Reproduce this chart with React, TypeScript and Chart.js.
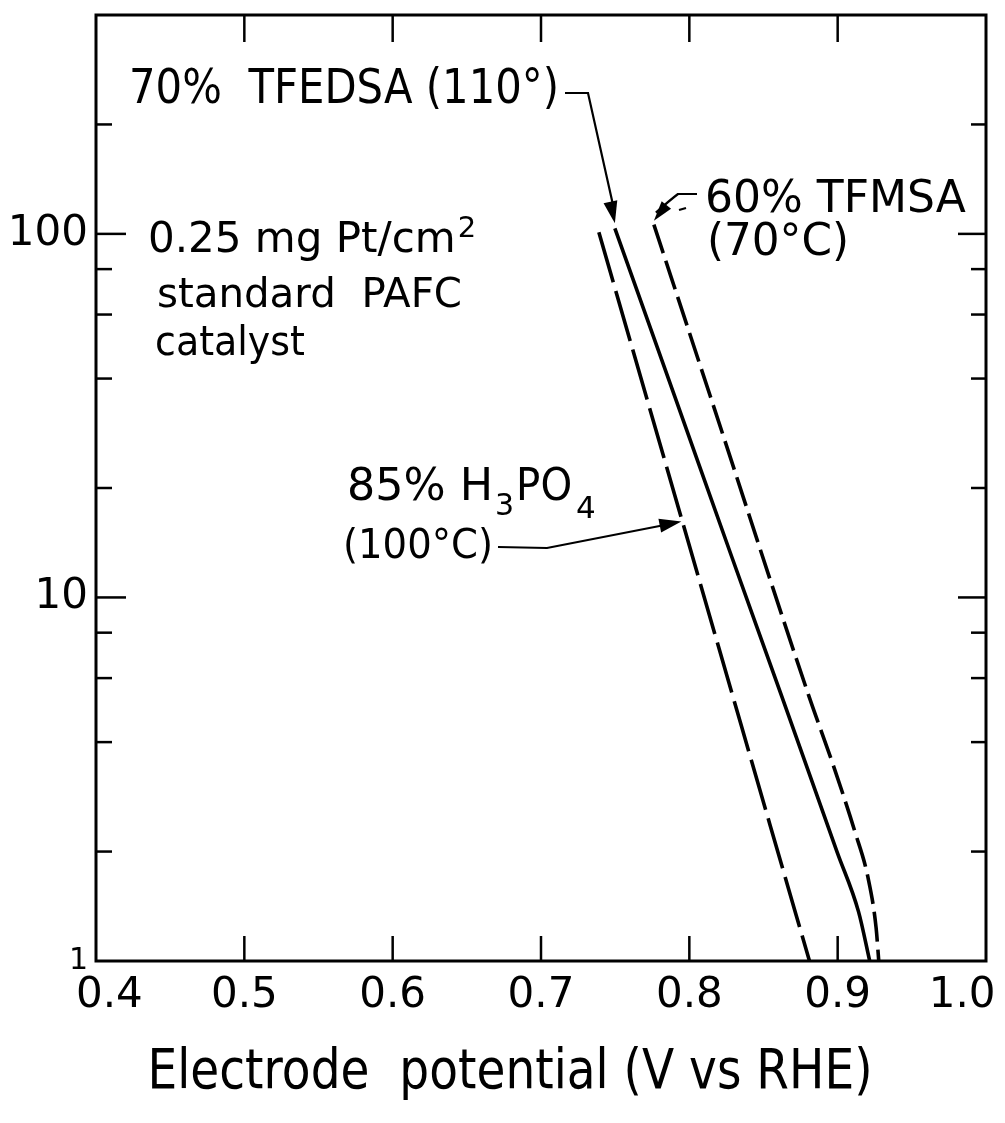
import React, { useEffect, useRef } from 'react';
import { Chart, registerables } from 'chart.js';

Chart.register(...registerables);

// ---- data ----
const xTickValues = [0.4, 0.5, 0.6, 0.7, 0.8, 0.9, 1.0];
const yMajorTicks = [10, 100];
const yMinorTicks = [2, 4, 6, 8, 20, 40, 60, 80, 200];
const yLabelValues = [1, 10, 100];

const h3po4Potential = [0.739, 0.7714, 0.8283, 0.8543, 0.881];
const h3po4Current = [101, 35.2, 5.53, 2.375, 1.0];

const tfedsaPotential = [0.7498, 0.7904, 0.8287, 0.8622, 0.8997, 0.9141, 0.9216];
const tfedsaCurrent = [103.6, 35.5, 12.9, 5.36, 1.99, 1.365, 1.0];

const tfmsaPotential = [0.7761, 0.8142, 0.8805, 0.8974, 0.9116, 0.9204, 0.9259, 0.9277];
const tfmsaCurrent = [106, 35.7, 5.37, 3.42, 2.27, 1.7, 1.235, 1.0];

const seriesNames = ['85% H3PO4 (100°C)', '70% TFEDSA (110°)', '60% TFMSA (70°C)'];
const axisTitle = 'Electrode  potential (V vs RHE)';

const FONT = '"DejaVu Sans", "Liberation Sans", sans-serif';

const toPoints = (xs: number[], ys: number[]) => xs.map((x, i) => ({ x, y: ys[i] }));

function drawText(ctx: CanvasRenderingContext2D, s: string, x: number, y: number, size: number, maxW?: number) {
  ctx.font = `${size}px ${FONT}`;
  ctx.textAlign = 'left';
  ctx.textBaseline = 'alphabetic';
  if (maxW) ctx.fillText(s, x, y, maxW);
  else ctx.fillText(s, x, y);
  const w = ctx.measureText(s).width;
  return x + (maxW ? Math.min(w, maxW) : w);
}

function arrowHead(ctx: CanvasRenderingContext2D, fx: number, fy: number, tx: number, ty: number, len = 22, half = 7) {
  const a = Math.atan2(ty - fy, tx - fx);
  ctx.beginPath();
  ctx.moveTo(tx, ty);
  ctx.lineTo(tx - len * Math.cos(a) + half * Math.sin(a), ty - len * Math.sin(a) - half * Math.cos(a));
  ctx.lineTo(tx - len * Math.cos(a) - half * Math.sin(a), ty - len * Math.sin(a) + half * Math.cos(a));
  ctx.closePath();
  ctx.fill();
}

const framePlugin = {
  id: 'frameAndNotes',
  afterDraw(chart: any) {
    const { ctx, chartArea: a, scales } = chart;
    const xs = scales.x;
    const ys = scales.y;
    ctx.save();
    ctx.strokeStyle = '#000';
    ctx.fillStyle = '#000';
    ctx.lineCap = 'butt';
    // frame
    ctx.lineWidth = 3;
    ctx.strokeRect(a.left, a.top, a.right - a.left, a.bottom - a.top);
    const seg = (x1: number, y1: number, x2: number, y2: number) => {
      ctx.beginPath();
      ctx.moveTo(x1, y1);
      ctx.lineTo(x2, y2);
      ctx.stroke();
    };
    ctx.lineWidth = 2.5;
    xTickValues.slice(1, -1).forEach((v) => {
      const px = xs.getPixelForValue(v);
      seg(px, a.bottom, px, a.bottom - 25);
      seg(px, a.top, px, a.top + 27);
    });
    yMajorTicks.forEach((v) => {
      const py = ys.getPixelForValue(v);
      seg(a.left, py, a.left + 30, py);
      seg(a.right, py, a.right - 28, py);
    });
    yMinorTicks.forEach((v) => {
      const py = ys.getPixelForValue(v);
      seg(a.left, py, a.left + 16, py);
      seg(a.right, py, a.right - 15, py);
    });

    // annotations
    ctx.lineWidth = 2.2;
    const m0 = chart.getDatasetMeta(0).data;
    const m1 = chart.getDatasetMeta(1).data;
    const m2 = chart.getDatasetMeta(2).data;

    // 70% TFEDSA
    drawText(ctx, '70%  TFEDSA (110°)', 129, 103, 48, 430);
    const t1x = m1[0].x, t1y = m1[0].y - 5;
    ctx.beginPath();
    ctx.moveTo(565, 93);
    ctx.lineTo(588, 93);
    ctx.lineTo(t1x, t1y - 10);
    ctx.stroke();
    arrowHead(ctx, 588, 93, t1x, t1y);

    // 60% TFMSA
    drawText(ctx, '60% TFMSA', 705, 212, 44, 275);
    drawText(ctx, '(70°C)', 707, 255, 44, 142);
    const t2x = m2[0].x, t2y = m2[0].y - 4;
    ctx.beginPath();
    ctx.moveTo(697, 194);
    ctx.lineTo(678, 194);
    ctx.quadraticCurveTo(670, 200, t2x + 2, t2y - 8);
    ctx.stroke();
    arrowHead(ctx, 672, 198, t2x, t2y, 20, 6);
    seg(679, 210, 686, 208);

    // catalyst note
    const endX = drawText(ctx, '0.25 mg Pt/cm', 148, 252, 42, 316);
    drawText(ctx, '2', endX + 2, 237, 29);
    drawText(ctx, 'standard  PAFC', 157, 307, 41, 305);
    drawText(ctx, 'catalyst', 155, 355, 41, 150);

    // 85% H3PO4
    let cx = drawText(ctx, '85% H', 347, 500, 45, 146);
    cx = drawText(ctx, '3', cx + 2, 515, 30);
    cx = drawText(ctx, 'PO', cx + 2, 500, 45, 56);
    drawText(ctx, '4', cx + 4, 518, 31);
    drawText(ctx, '(100°C)', 343, 558, 41, 150);
    const f = 0.42;
    const t3x = m0[1].x + (m0[2].x - m0[1].x) * f;
    const t3y = m0[1].y + (m0[2].y - m0[1].y) * f;
    ctx.beginPath();
    ctx.moveTo(498, 547);
    ctx.lineTo(547, 548);
    ctx.lineTo(t3x - 10, t3y + 2);
    ctx.stroke();
    arrowHead(ctx, 547, 548, t3x - 1, t3y, 22, 7);

    // axis title
    ctx.font = `56px ${FONT}`;
    ctx.textAlign = 'center';
    ctx.textBaseline = 'alphabetic';
    ctx.fillText(axisTitle, 510, 1088, 725);
    ctx.restore();
  },
};

export default function App() {
  const canvasRef = useRef<HTMLCanvasElement | null>(null);

  useEffect(() => {
    const canvas = canvasRef.current;
    if (!canvas) return;
    const lineStyle = {
      borderColor: '#000',
      borderWidth: 3.6,
      pointRadius: 0,
      fill: false,
      cubicInterpolationMode: 'monotone' as const,
      borderCapStyle: 'butt' as const,
    };
    const chart = new Chart(canvas, {
      type: 'line',
      data: {
        datasets: [
          { label: seriesNames[0], data: toPoints(h3po4Potential, h3po4Current), borderDash: [52, 9], ...lineStyle },
          { label: seriesNames[1], data: toPoints(tfedsaPotential, tfedsaCurrent), ...lineStyle },
          { label: seriesNames[2], data: toPoints(tfmsaPotential, tfmsaCurrent), borderDash: [30, 8], ...lineStyle },
        ],
      },
      options: {
        responsive: false,
        animation: false,
        devicePixelRatio: 1,
        layout: { padding: { top: 15, right: 19, left: 0, bottom: 0 } },
        plugins: {
          legend: { display: false },
          tooltip: { enabled: false },
          title: { display: false },
        },
        scales: {
          x: {
            type: 'linear',
            position: 'bottom',
            min: 0.4,
            max: 1.0,
            grid: { display: false, drawTicks: false },
            border: { display: false },
            afterBuildTicks: (s: any) => {
              s.ticks = xTickValues.map((v) => ({ value: v }));
            },
            afterFit: (s: any) => {
              s.height = 162;
              s.paddingLeft = 0;
              s.paddingRight = 0;
            },
            ticks: {
              autoSkip: false,
              maxRotation: 0,
              minRotation: 0,
              padding: 10,
              color: '#000',
              font: { family: FONT, size: 42 },
              callback: (v: any) => {
                const n = Number(v);
                const s = n.toFixed(1);
                if (Math.abs(n - 0.4) < 1e-6) return '\u2007' + s;
                if (Math.abs(n - 1.0) < 1e-6) return s + '\u2007\u2002';
                return s;
              },
            },
          },
          y: {
            type: 'logarithmic',
            min: 1,
            max: 400,
            grid: { display: false, drawTicks: false },
            border: { display: false },
            afterBuildTicks: (s: any) => {
              s.ticks = [1, ...yMinorTicks.slice(0, 4), 10, ...yMinorTicks.slice(4, 8), 100, 200].map((v) => ({ value: v }));
            },
            afterFit: (s: any) => {
              s.width = 96;
              s.paddingTop = 0;
              s.paddingBottom = 0;
            },
            ticks: {
              autoSkip: false,
              padding: 8,
              color: '#000',
              font: (c: any) => ({ family: FONT, size: c.tick && c.tick.value === 1 ? 30 : 42 }),
              callback: (v: any) => (yLabelValues.includes(Number(v)) ? String(v) : ''),
            },
          },
        },
      },
      plugins: [framePlugin],
    });
    return () => chart.destroy();
  }, []);

  return (
    <div style={{ position: 'absolute', left: 0, top: 0, width: 1005, height: 1123, background: '#fff' }}>
      <canvas ref={canvasRef} width={1005} height={1123} style={{ width: 1005, height: 1123, display: 'block' }} />
    </div>
  );
}
